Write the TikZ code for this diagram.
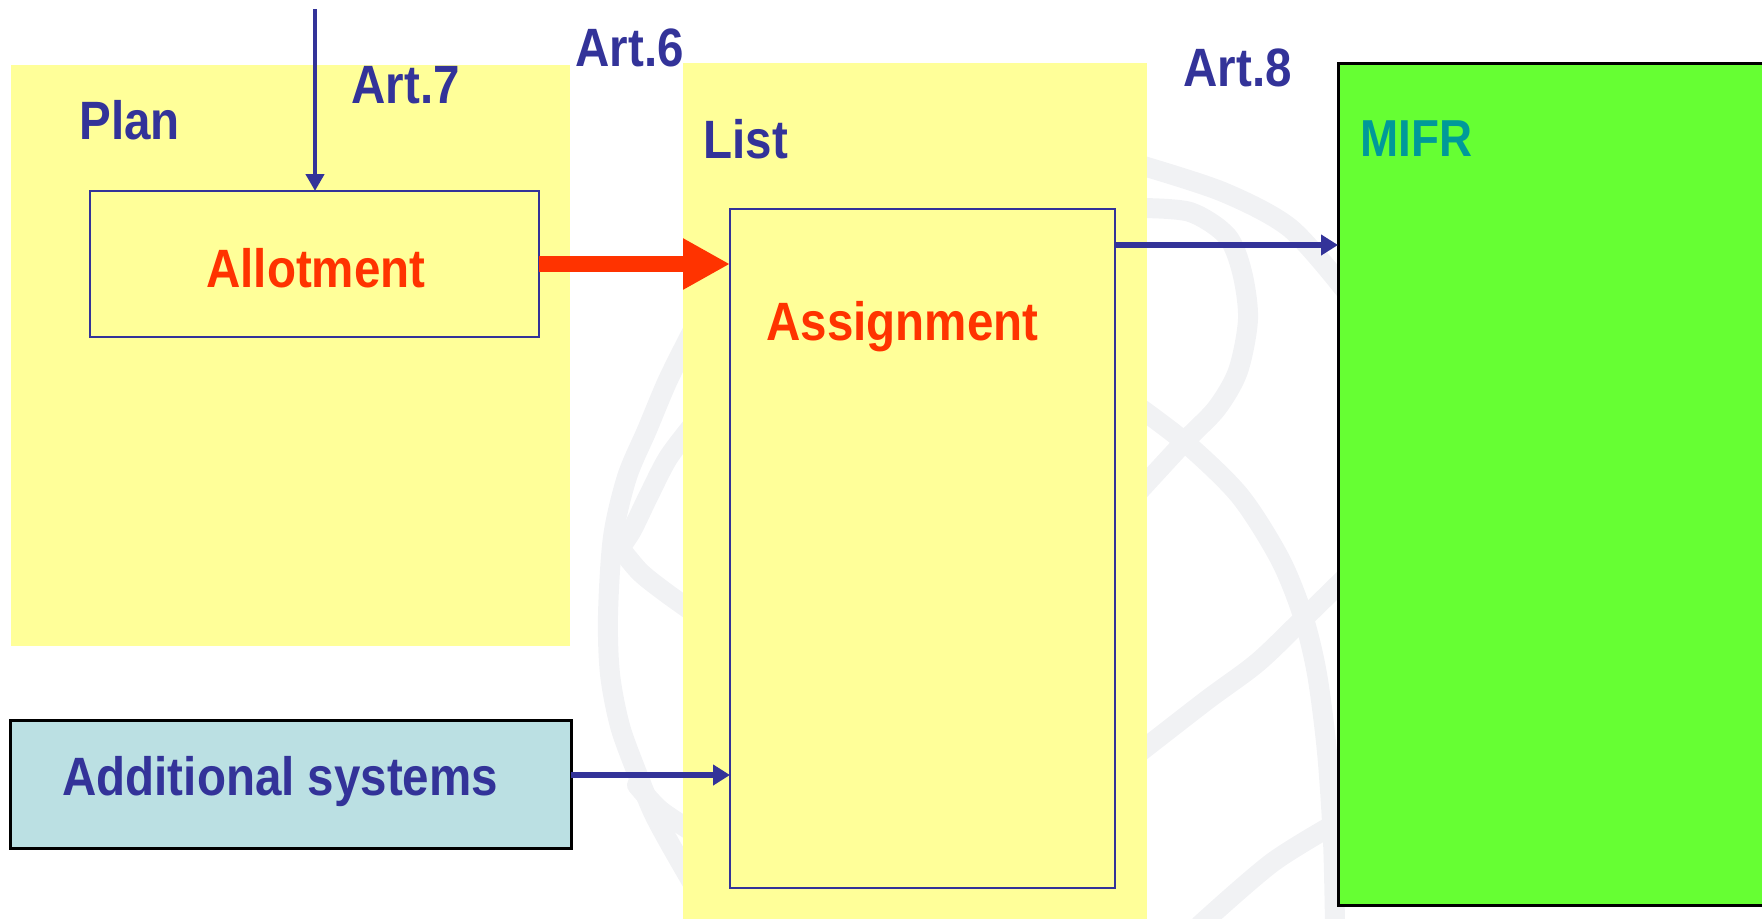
\documentclass[tikz,border=0pt]{standalone}
\usepackage{fontspec}
\setmainfont{Liberation Sans}[FakeStretch=0.88]
\usetikzlibrary{arrows.meta,fit}

\definecolor{navy}{HTML}{333399}
\definecolor{signal}{HTML}{FF3300}
\definecolor{paleyellow}{HTML}{FFFF99}
\definecolor{paleblue}{HTML}{BBE0E3}
\definecolor{lime}{HTML}{66FF33}
\definecolor{tealtext}{HTML}{009999}
\definecolor{ghost}{HTML}{F1F2F4}

\begin{document}
\begin{tikzpicture}[x=0.5pt,y=-0.5pt,
  panel/.style={fill=paleyellow, draw=none, inner sep=0pt, outer sep=0pt},
  stage/.style={draw=navy, line width=1pt, inner sep=0pt, outer sep=0pt},
  ext/.style={draw=black, line width=1.5pt, inner sep=0pt, outer sep=0pt},
  lbl/.style={anchor=base west, inner sep=0pt, font=\bfseries\fontsize{27}{30}\selectfont, text=navy},
  hot/.style={lbl, text=signal},
  flow/.style={draw=navy, line width=2.8pt, -{Triangle[length=8.5pt,width=10pt]}},
  globe/.style={draw=ghost, line width=10pt, line cap=round}
]
\useasboundingbox (0,0) rectangle (1762,918);

% faint globe emblem in the background
\draw[globe] plot[smooth] coordinates {(693,330) (668,380) (647,430) (627,477) (613,537) (608,615) (610,674) (620,726) (637,773) (653,812) (670,844) (693,884)};
\draw[globe] plot[smooth] coordinates {(693,425) (668,458) (648,497) (632,530) (620,548)};
\draw[globe] plot[smooth] coordinates {(620,548) (640,572) (665,592) (693,612)};
\draw[globe] plot[smooth] coordinates {(637,785) (660,810) (693,832)};
\draw[globe] plot[smooth] coordinates {(1140,165) (1223,192) (1290,228) (1345,290)};
\draw[globe] plot[smooth] coordinates {(1140,208) (1190,212) (1227,236) (1242,272) (1248,319) (1238,371) (1217,408) (1187,439) (1140,490)};
\draw[globe] plot[smooth] coordinates {(1140,408) (1187,444) (1240,496) (1280,559) (1303,616) (1317,674) (1327,752) (1333,841) (1335,925)};
\draw[globe] plot[smooth] coordinates {(1140,752) (1207,700) (1257,663) (1300,622) (1345,578)};
\draw[globe] plot[smooth] coordinates {(1200,925) (1273,862) (1345,818)};

% panels
\node[panel, fit={(11,65) (570,646)}] (plan) {};
\node[panel, fit={(683,63) (1147,925)}] (list) {};
\node[ext, fill=lime, fit={(1338,63) (1790,905)}] (mifr) {};

% boxes
\node[stage, fit={(90,191) (539,337)}] (allot) {};
\node[stage, fit={(730,209) (1115,888)}] (assign) {};
\node[ext, fill=paleblue, fit={(10,720) (571,848)}] (addsys) {};

% labels
\node[lbl] (planlbl) at (79,139) {Plan};
\node[lbl] (art7) at (351,103) {Art.7};
\node[lbl] (art6) at (575,66) {Art.6};
\node[lbl] (listlbl) at (703,158) {List};
\node[lbl] (art8) at (1183,86) {Art.8};
\node[lbl, text=tealtext, font=\bfseries\fontsize{26}{30}\selectfont] (mifrlbl) at (1360,156) {MIFR};
\node[hot] (allotlbl) at (206,287) {Allotment};
\node[hot] (assignlbl) at (766,340) {Assignment};
\node[lbl] (addlbl) at (62,795) {Additional systems};

% connectors
\coordinate (feed) at (315,9);
\draw[draw=navy, line width=2.4pt, -{Triangle[length=8.5pt,width=9pt]}] (feed) -- (feed |- allot.north);
\draw[draw=signal, line width=8pt, -{Triangle[length=23.5pt,width=24pt]}] (allot.east) -- (allot.east -| assign.west);
\coordinate (outlet) at ([yshift=-18pt]assign.north east);
\draw[flow] (outlet) -- (outlet -| mifr.west);
\coordinate (inlet) at ([yshift=4.5pt]addsys.east);
\draw[flow] (inlet) -- (inlet -| assign.west);
\end{tikzpicture}
\end{document}
